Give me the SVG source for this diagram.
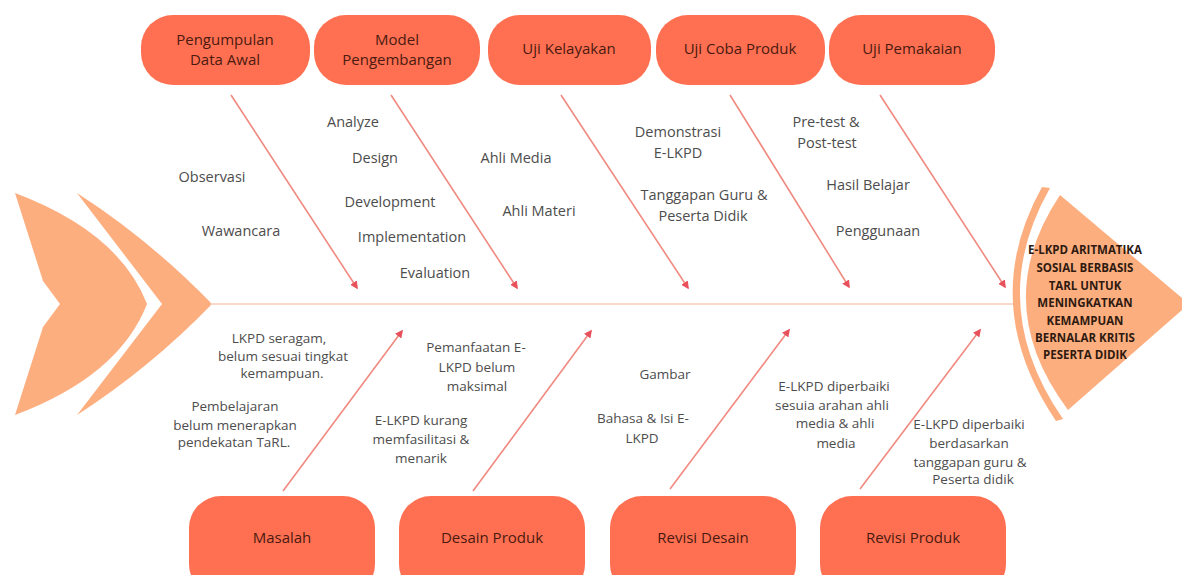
<svg xmlns="http://www.w3.org/2000/svg" width="1182" height="575" viewBox="0 0 1182 575">
<style>
.box{fill:#FF7052;}
.bt{font-family:"Open Sans","Liberation Sans",sans-serif;font-size:15px;font-weight:500;fill:#4a1a10;text-anchor:middle;}
.lb{font-family:"Open Sans","Liberation Sans",sans-serif;font-size:14.5px;fill:#4d4d4d;text-anchor:middle;}
.ls{font-family:"Open Sans","Liberation Sans",sans-serif;font-size:13.5px;fill:#4d4d4d;text-anchor:middle;}
.hd{font-family:"Open Sans","Liberation Sans",sans-serif;font-size:11.5px;font-weight:700;fill:#2e1a10;text-anchor:middle;}
.peach{fill:#FDAE7F;}
.ar{stroke:#F08A80;stroke-width:1.6;fill:none;marker-end:url(#ah);}
</style>
<defs>
<marker id="ah" viewBox="0 0 10 10" refX="8" refY="5" markerWidth="5" markerHeight="5" orient="auto" markerUnits="strokeWidth">
<path d="M0,0 L10,5 L0,10 Z" fill="#E8505B"/>
</marker>
</defs>
<rect width="1182" height="575" fill="#ffffff"/>

<g id="tail">
<path class="peach" d="M15,193 Q119,232 147,304 Q119,376 15,415 L43,327 L60,304 L43,281 Z"/>
<path class="peach" d="M77,193 Q150,240 212,304 Q150,368 77,415 L162,304 Z"/>
</g>

<g id="spine">
<line x1="210" y1="304" x2="1020" y2="304" stroke="#F9CBBD" stroke-width="1.6"/>
</g>

<g id="head">
<path class="peach" d="M1042,187 Q977,304 1056,421 L1063,419 Q984,304 1050,188 Z"/>
<path class="peach" d="M1060,195 L1182,298 L1182,310 L1068,410 Q988,303 1060,195 Z"/>
<text class="hd" x="1085" y="254">E-LKPD ARITMATIKA</text>
<text class="hd" x="1085" y="272">SOSIAL BERBASIS</text>
<text class="hd" x="1085" y="290">TARL UNTUK</text>
<text class="hd" x="1085" y="307">MENINGKATKAN</text>
<text class="hd" x="1085" y="325">KEMAMPUAN</text>
<text class="hd" x="1085" y="342">BERNALAR KRITIS</text>
<text class="hd" x="1085" y="359">PESERTA DIDIK</text>
</g>

<g id="connectors">
<line class="ar" x1="231" y1="95" x2="357" y2="288"/>
<line class="ar" x1="391" y1="95" x2="517" y2="288"/>
<line class="ar" x1="561" y1="95" x2="688" y2="288"/>
<line class="ar" x1="730" y1="95" x2="849" y2="287"/>
<line class="ar" x1="880" y1="95" x2="1005" y2="287"/>
<line class="ar" x1="283" y1="491" x2="402" y2="331"/>
<line class="ar" x1="473" y1="491" x2="591" y2="331"/>
<line class="ar" x1="670" y1="489" x2="789" y2="330"/>
<line class="ar" x1="860" y1="489" x2="980" y2="330"/>
</g>

<g id="n-pengumpulan">
<rect class="box" x="141" y="15" width="169" height="70" rx="32"/>
<text class="bt" x="225" y="45">Pengumpulan</text>
<text class="bt" x="225" y="65">Data Awal</text>
</g>
<g id="n-model">
<rect class="box" x="314" y="15" width="166" height="70" rx="32"/>
<text class="bt" x="397" y="45">Model</text>
<text class="bt" x="397" y="65">Pengembangan</text>
</g>
<g id="n-kelayakan">
<rect class="box" x="488" y="15" width="163" height="70" rx="32"/>
<text class="bt" x="569" y="54">Uji Kelayakan</text>
</g>
<g id="n-ujicoba">
<rect class="box" x="656" y="15" width="169" height="70" rx="32"/>
<text class="bt" x="740" y="54">Uji Coba Produk</text>
</g>
<g id="n-pemakaian">
<rect class="box" x="829" y="15" width="166" height="70" rx="32"/>
<text class="bt" x="912" y="54">Uji Pemakaian</text>
</g>

<g id="n-masalah">
<rect class="box" x="189" y="496" width="186" height="100" rx="32"/>
<text class="bt" x="282" y="543">Masalah</text>
</g>
<g id="n-desain">
<rect class="box" x="399" y="496" width="186" height="100" rx="32"/>
<text class="bt" x="492" y="543">Desain Produk</text>
</g>
<g id="n-revisidesain">
<rect class="box" x="610" y="496" width="186" height="100" rx="32"/>
<text class="bt" x="703" y="543">Revisi Desain</text>
</g>
<g id="n-revisiproduk">
<rect class="box" x="820" y="496" width="186" height="100" rx="32"/>
<text class="bt" x="913" y="543">Revisi Produk</text>
</g>

<g id="labels-top">
<text class="lb" x="212" y="182">Observasi</text>
<text class="lb" x="241" y="236">Wawancara</text>
<text class="lb" x="353" y="127">Analyze</text>
<text class="lb" x="375" y="163">Design</text>
<text class="lb" x="390" y="207">Development</text>
<text class="lb" x="412" y="242">Implementation</text>
<text class="lb" x="435" y="278">Evaluation</text>
<text class="lb" x="516" y="163">Ahli Media</text>
<text class="lb" x="539" y="216">Ahli Materi</text>
<text class="lb" x="678" y="137">Demonstrasi</text>
<text class="lb" x="678" y="158">E-LKPD</text>
<text class="lb" x="704" y="200">Tanggapan Guru &amp;</text>
<text class="lb" x="703" y="221">Peserta Didik</text>
<text class="lb" x="826" y="127">Pre-test &amp;</text>
<text class="lb" x="827" y="148">Post-test</text>
<text class="lb" x="868" y="190">Hasil Belajar</text>
<text class="lb" x="878" y="236">Penggunaan</text>
</g>

<g id="labels-bottom">
<text class="ls" x="279" y="343">LKPD seragam,</text>
<text class="ls" x="283" y="361">belum sesuai tingkat</text>
<text class="ls" x="282" y="378">kemampuan.</text>
<text class="ls" x="235" y="411">Pembelajaran</text>
<text class="ls" x="235" y="430">belum menerapkan</text>
<text class="ls" x="234" y="447">pendekatan TaRL.</text>
<text class="ls" x="476" y="352">Pemanfaatan E-</text>
<text class="ls" x="477" y="372">LKPD belum</text>
<text class="ls" x="477" y="391">maksimal</text>
<text class="ls" x="421" y="425">E-LKPD kurang</text>
<text class="ls" x="421" y="444">memfasilitasi &amp;</text>
<text class="ls" x="421" y="463">menarik</text>
<text class="ls" x="665" y="379">Gambar</text>
<text class="ls" x="643" y="423">Bahasa &amp; Isi E-</text>
<text class="ls" x="642" y="443">LKPD</text>
<text class="ls" x="834" y="391">E-LKPD diperbaiki</text>
<text class="ls" x="832" y="410">sesuia arahan ahli</text>
<text class="ls" x="835" y="428">media &amp; ahli</text>
<text class="ls" x="836" y="448">media</text>
<text class="ls" x="969" y="429">E-LKPD diperbaiki</text>
<text class="ls" x="969" y="448">berdasarkan</text>
<text class="ls" x="970" y="467">tanggapan guru &amp;</text>
<text class="ls" x="973" y="484">Peserta didik</text>
</g>
</svg>
